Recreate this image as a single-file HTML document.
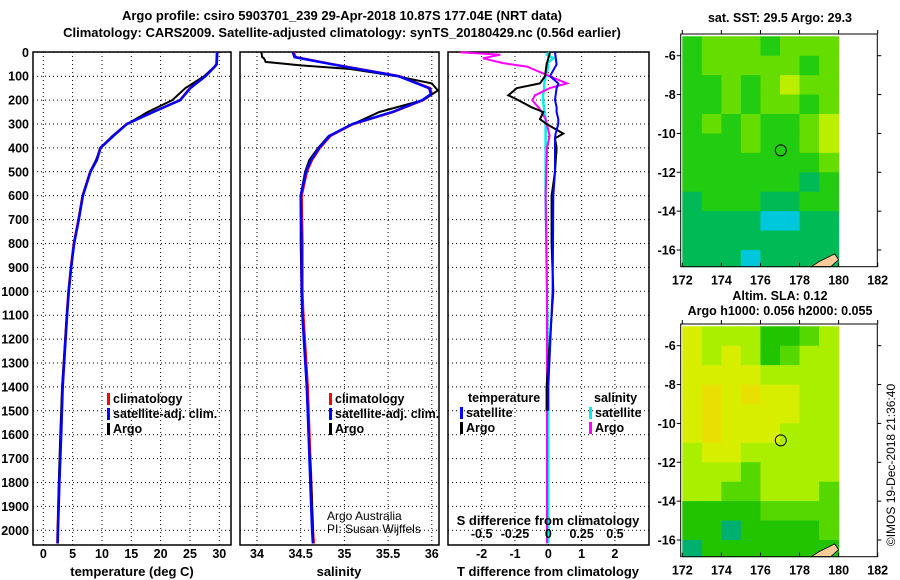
<!DOCTYPE html>
<html><head><meta charset="utf-8"><style>
html,body{margin:0;padding:0;background:#fff}
svg{display:block;font-family:"Liberation Sans",Arial,sans-serif}
.t{font-weight:bold;font-size:13px}
.tk{font-weight:bold;font-size:12.5px}
.n{font-weight:normal;font-size:12px}
</style></head><body>
<svg id="fig" width="900" height="580" viewBox="0 0 900 580" xmlns="http://www.w3.org/2000/svg">
<text class="t" x="342" y="20" text-anchor="middle">Argo profile: csiro 5903701_239 29-Apr-2018 10.87S 177.04E (NRT data)</text>
<text class="t" x="342" y="37" text-anchor="middle">Climatology: CARS2009. Satellite-adjusted climatology: synTS_20180429.nc (0.56d earlier)</text>
<g id="g"></g>
</svg>
<script>
// ---- data ----
const tDepth=[0,50,60,100,150,200,250,300,350,400,450,500,600,700,800,900,1000,1100,1400,1600,1800,2000,2055];
const tClim=[29.6,29.5,29.2,27.6,25.0,23.3,18.7,14.2,11.9,9.7,9.1,8.0,6.7,6.0,5.2,4.7,4.3,4.0,3.25,3.0,2.7,2.45,2.4];
const tArgo=[29.6,29.5,29.2,27.4,24.2,22.0,17.8,14.3,11.8,9.8,9.0,8.0,6.7,6.0,5.3,4.7,4.3,4.0,3.2,2.9,2.65,2.45,2.4];
const sDepth=[0,20,50,100,150,175,200,250,300,350,400,450,500,600,800,1000,1100,1400,1600,1800,2000,2055];
const sClim=[34.42,34.44,34.87,35.63,35.98,36.0,35.9,35.56,35.1,34.84,34.72,34.63,34.57,34.51,34.52,34.52,34.53,34.58,34.6,34.62,34.64,34.65];
const aDepth=[0,20,25,40,55,70,100,130,160,200,250,300,350,400,450,500,600,800,1000,1100,1400,1600,1800,2000,2040];
const sArgo=[34.05,34.06,34.08,34.1,34.5,35.07,35.6,36.0,36.07,35.9,35.4,35.1,34.82,34.7,34.6,34.55,34.5,34.5,34.51,34.52,34.57,34.59,34.62,34.64,34.64];
const dDepth=[0,50,100,130,150,180,200,230,250,280,300,340,360,400,500,600,800,1000,1400,1500];
const dTArgo=[0.05,-0.05,-0.1,-0.25,-0.95,-1.2,-0.9,-0.5,-0.15,-0.25,-0.05,0.45,0.2,0.25,0.2,0.1,0.1,0.15,-0.05,-0.05];
const dTSat=[0.2,0.25,0.05,0.3,0.25,0.22,0.2,0.25,0.25,0.3,0.3,0.22,0.2,0.2,0.2,0.15,0.14,0.13,0.0,0.0];
const dSDepth=[0,10,25,45,60,100,130,150,180,200,240,280,350,400,600,1000,1500,2055];
const dSArgo=[-0.66,-0.36,-0.49,-0.34,-0.16,0.01,0.14,0.01,-0.1,-0.12,-0.06,-0.02,0.01,-0.01,-0.02,-0.01,-0.01,-0.01];
const dSSat=[0.01,-0.01,0.04,-0.01,0.0,-0.02,-0.03,-0.03,-0.04,-0.04,-0.03,-0.02,-0.02,-0.02,-0.02,-0.01,0.0,0.0];
const depthTicks=[0,100,200,300,400,500,600,700,800,900,1000,1100,1200,1300,1400,1500,1600,1700,1800,1900,2000];
const tempTicks=[0,5,10,15,20,25,30];
const salTicks=[34,34.5,35,35.5,36];
const dTTicks=[-2,-1,0,1,2];
const dSTicks=[-0.5,-0.25,0,0.25,0.5];
const sstGrid=[
[2,3,3,3,2,3,3,3],[2,3,3,3,3,3,2,3],[2,2,3,2,3,4,3,3],[2,2,3,2,3,3,2,3],
[2,3,2,3,2,2,3,4],[2,2,2,3,2,2,3,4],[2,2,2,2,2,2,2,3],[2,2,2,2,2,2,1,2],
[1,2,2,2,1,1,2,2],[1,1,1,1,0,0,1,1],[1,1,1,1,1,1,1,1],[1,1,1,0,1,1,1,1]];
const slaGrid=[
[4,3,3,3,1,1,2,3],[4,3,4,3,1,2,3,3],[4,4,4,4,3,3,3,3],[4,5,4,5,4,4,3,3],
[4,5,4,4,4,4,3,3],[4,5,4,4,4,3,3,3],[3,4,4,3,3,3,3,3],[3,3,3,2,3,3,3,3],
[3,3,2,2,3,3,3,2],[1,1,1,1,2,2,2,2],[1,1,0,1,1,1,1,2],[0,1,1,1,1,1,1,1]];
const lonTicks=[172,174,176,178,180,182];
const latTicks=[-6,-8,-10,-12,-14,-16];

// ---- helpers ----
const NS="http://www.w3.org/2000/svg";const G=document.getElementById('g');
function mk(tag,at,parent){const e=document.createElementNS(NS,tag);for(const k in at)e.setAttribute(k,at[k]);(parent||G).appendChild(e);return e;}
const yD=d=>52.3+d*0.239;
const Y0=52,Y1=545;
const xT=v=>43.3+v*5.867, xS=v=>257+(v-34)*87.4, xDT=v=>548.3+v*33.3, xDS=v=>548.3+v*133.3;

function panel(name,x0,x1,xt,ticks,fmt,showDepth){
  for(const t of ticks){const l=mk('line',{x1:xt(t),x2:xt(t),y1:Y0,y2:Y1,stroke:'#000','stroke-dasharray':'1,3'});
    
    const tx=mk('text',{x:xt(t),y:558,'text-anchor':'middle',class:'tk'});tx.textContent=fmt(t);
    }
  for(const d of depthTicks){const l=mk('line',{x1:x0,x2:x1,y1:yD(d),y2:yD(d),stroke:'#000','stroke-dasharray':'1,3'});
    
    if(showDepth){const tx=mk('text',{x:29,y:yD(d)+4.5,'text-anchor':'end',class:'tk'});tx.textContent=d;
      }}
  const r=mk('rect',{x:x0,y:Y0,width:x1-x0,height:Y1-Y0,fill:'none',stroke:'#000','stroke-width':1.5});
  
}
function line(name,xs,ds,xf,col,w,x0,x1){
  const pts=xs.map((v,i)=>Math.max(x0,Math.min(x1,xf(v))).toFixed(1)+','+yD(ds[i]).toFixed(1)).join(' ');
  const p=mk('polyline',{points:pts,fill:'none',stroke:col,'stroke-width':w});
  
}
function label(txt,x,y,name,cls,anchor){const t=mk('text',{x:x,y:y,class:cls||'tk','text-anchor':anchor||'start'});t.textContent=txt;
  return t;}
function legItem(x,y,col,txt,name){const r=mk('rect',{x:x,y:y-10,width:3,height:12,fill:col});
  
  label(txt,x+6,y,name,'tk');}

// panel 1 temperature
panel('temp-panel',33,231,xT,tempTicks,v=>v,true);
line('temp-climatology',tClim,tDepth,xT,'#f00',2.5,33,231);
line('temp-argo',tArgo,tDepth,xT,'#000',2,33,231);
line('temp-satellite-adj',tClim.map(v=>v+0.05),tDepth,xT,'#00f',2.5,33,231);
label('temperature (deg C)',132,576,'temp-x-axis-title','t','middle');
legItem(107,403,'#f00','climatology','legend-climatology');
legItem(107,418,'#00f','satellite-adj. clim.','legend-satellite-adj');
legItem(107,433,'#000','Argo','legend-argo');

// panel 2 salinity
panel('salinity-panel',240,439,xS,salTicks,v=>v,false);
line('sal-climatology',sClim,sDepth,xS,'#f00',2.5,240,439);
line('sal-argo',sArgo,aDepth,xS,'#000',2,240,439);
line('sal-satellite-adj',sClim.map(v=>v-0.01),sDepth,xS,'#00f',2.5,240,439);
label('salinity',339,576,'salinity-x-axis-title','t','middle');
legItem(329,403,'#f00','climatology','legend2-climatology');
legItem(329,418,'#00f','satellite-adj. clim.','legend2-satellite-adj');
legItem(329,433,'#000','Argo','legend2-argo');
label('Argo Australia',327,520,'credit-argo-australia','n');
label('PI: Susan Wijffels',327,533,'credit-pi','n');

// panel 3 differences
panel('diff-panel',448,649,xDT,dTTicks,v=>v,false);
line('diff-s-satellite',dSSat,dSDepth,xDS,'#0ee',2.5,448,649);
line('diff-s-argo',dSArgo,dSDepth,xDS,'#f0f',2,448,649);
line('diff-t-argo',dTArgo,dDepth,xDT,'#000',2,448,649);
line('diff-t-satellite',dTSat,dDepth,xDT,'#00f',2,448,649);
label('T difference from climatology',548,576,'t-diff-x-axis-title','t','middle');
label('S difference from climatology',548,525,'s-diff-axis-title','t','middle');
for(const s of dSTicks){label(String(s),xDS(s),538,'s-diff-tick-label','tk','middle');}
label('temperature',468,402,'legend3-temperature-header','tk');
label('salinity',594,402,'legend3-salinity-header','tk');
legItem(460,417,'#00f','satellite','legend3-t-satellite');
legItem(460,432,'#000','Argo','legend3-t-argo');
legItem(589,417,'#0ee','satellite','legend3-s-satellite');
legItem(589,432,'#f0f','Argo','legend3-s-argo');

// maps
const sstCols=['#00c8dc','#00bb55','#22cc11','#66dd00','#bbee00'];
const slaCols=['#00b070','#22c400','#55d800','#aaee00','#d8ee00','#e8e000'];
function map(name,top,grid,cols,title1,title2){
  const L=680.7,R=877.3,B=top+232.7;
  const xL=lon=>682.3+(lon-172)*19.54, yL=lat=>top+21.7+(-6-lat)*19.43;
  grid.forEach((row,i)=>row.forEach((v,j)=>{
    const x=Math.max(L,xL(172+j)),y=Math.max(top,yL(-5-i));
    const c=mk('rect',{x:x,y:y,width:xL(173+j)-x+0.5,height:Math.min(B,yL(-6-i))-y+0.5,fill:cols[v]});
    }));
  const isl=mk('path',{d:`M${xL(178.6)},${B} L${xL(179)},${yL(-16.6)} L${xL(179.8)},${yL(-16.2)} L${xL(180)},${yL(-16.5)} L${xL(179.6)},${B} Z`,fill:'#fc9',stroke:'#000','stroke-width':0.8});
  
  const ci=mk('circle',{cx:xL(177.04),cy:yL(-10.87),r:5.5,fill:'none',stroke:'#000','stroke-width':1});
  
  const fr=mk('rect',{x:L,y:top,width:R-L,height:B-top,fill:'none',stroke:'#000','stroke-width':1});
  
  for(const lo of lonTicks){mk('line',{x1:xL(lo),x2:xL(lo),y1:B,y2:B-4,stroke:'#000'});mk('line',{x1:xL(lo),x2:xL(lo),y1:top,y2:top-4,stroke:'#000'});
    label(lo,xL(lo),B+18,name+'-lon-tick-label','tk','middle');}
  for(const la of latTicks){mk('line',{x1:L,x2:L-4,y1:yL(la),y2:yL(la),stroke:'#000'});mk('line',{x1:R,x2:R+4,y1:yL(la),y2:yL(la),stroke:'#000'});
    label(la,L-5,yL(la)+4.5,name+'-lat-tick-label','tk','end');}
  if(title2){label(title1,780,top-24,name+'-title-1','tk','middle');label(title2,780,top-9,name+'-title-2','tk','middle');}
  else label(title1,780,top-12,name+'-title','tk','middle');
}
map('sst-map',34,sstGrid,sstCols,'sat. SST: 29.5 Argo: 29.3');
map('sla-map',324,slaGrid,slaCols,'Altim. SLA: 0.12','Argo h1000: 0.056 h2000: 0.055');
const cp=mk('text',{x:0,y:0,transform:'translate(895,465) rotate(-90)','text-anchor':'middle','font-size':'12'});
cp.textContent='©IMOS 19-Dec-2018 21:36:40';


</script>
</body></html>
